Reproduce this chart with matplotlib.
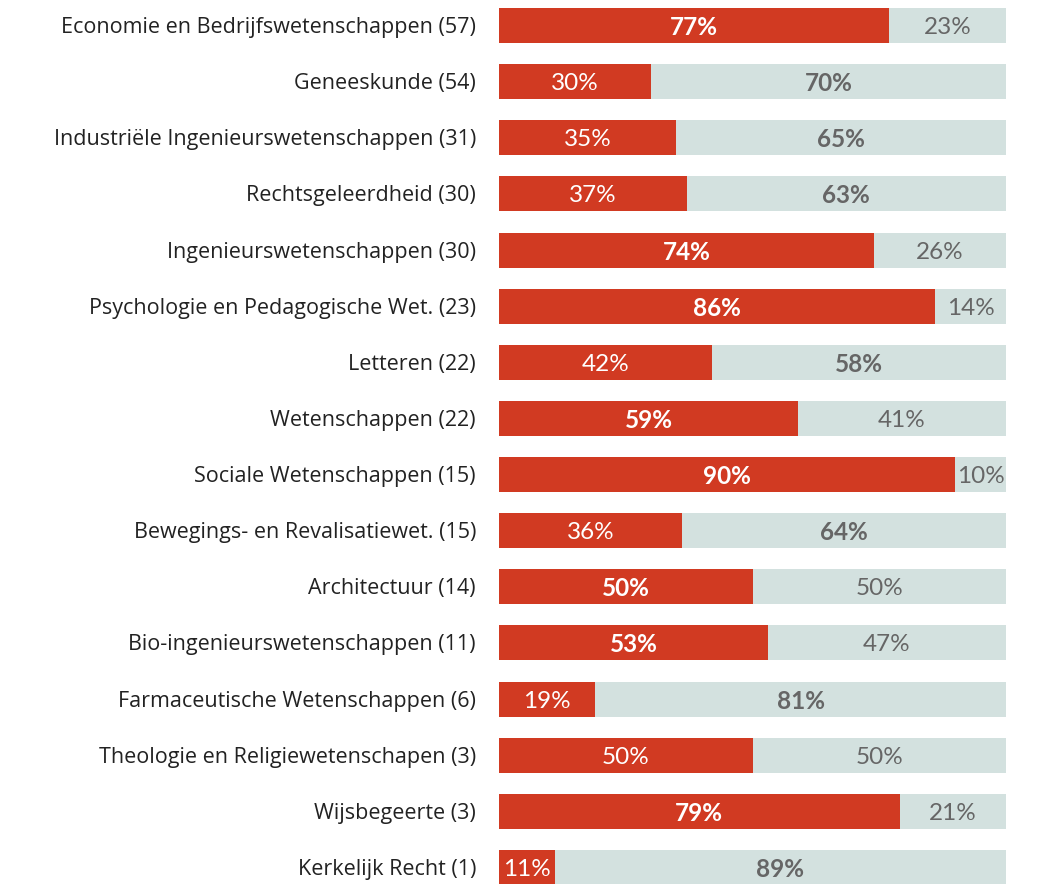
import matplotlib
matplotlib.use("Agg")
import matplotlib.pyplot as plt

categories = [
    "Economie en Bedrijfswetenschappen (57)",
    "Geneeskunde (54)",
    "Industriële Ingenieurswetenschappen (31)",
    "Rechtsgeleerdheid (30)",
    "Ingenieurswetenschappen (30)",
    "Psychologie en Pedagogische Wet. (23)",
    "Letteren (22)",
    "Wetenschappen (22)",
    "Sociale Wetenschappen (15)",
    "Bewegings- en Revalisatiewet. (15)",
    "Architectuur (14)",
    "Bio-ingenieurswetenschappen (11)",
    "Farmaceutische Wetenschappen (6)",
    "Theologie en Religiewetenschapen (3)",
    "Wijsbegeerte (3)",
    "Kerkelijk Recht (1)",
]
red_values = [77, 30, 35, 37, 74, 86, 42, 59, 90, 36, 50, 53, 19, 50, 79, 11]
grey_values = [23, 70, 65, 63, 26, 14, 58, 41, 10, 64, 50, 47, 81, 50, 21, 89]
red_bold = [True, False, False, False, True, True, False, True, True, False, True, True, False, False, True, False]
grey_bold = [False, True, True, True, False, False, True, False, False, True, False, False, True, False, False, True]

RED = "#d13a22"
GREY = "#d3e1df"
GREY_TEXT = "#666666"
LABEL_TEXT = "#222222"

W, H = 1038, 884
fig = plt.figure(figsize=(W / 100, H / 100), dpi=100)
fig.patch.set_facecolor("white")

step = 56.13
first_center = 25.5
top = -first_center / step
bottom = (H - first_center) / step

ax = fig.add_axes([499 / W, 0, 507 / W, 1])
ax.set_xlim(0, 100)
ax.set_ylim(bottom, top)
ax.axis("off")

n = len(categories)
ys = list(range(n))
bh = 35 / step
ax.barh(ys, red_values, height=bh, color=RED, edgecolor="none")
ax.barh(ys, grey_values, left=red_values, height=bh, color=GREY, edgecolor="none")

pct_font = "Lato"
for i in range(n):
    r, g = red_values[i], grey_values[i]
    ax.annotate(f"{r}%", xy=(r / 2, i), xytext=(0, -2), textcoords="offset pixels",
                ha="center", va="center", color="white",
                fontsize=17.5, family=pct_font,
                fontweight="bold" if red_bold[i] else "normal")
    ax.annotate(f"{g}%", xy=(r + g / 2, i), xytext=(0, -2), textcoords="offset pixels",
                ha="center", va="center", color=GREY_TEXT,
                fontsize=17.5, family=pct_font,
                fontweight="bold" if grey_bold[i] else "normal")
    ax.annotate(categories[i], xy=(0, i), xycoords="data",
                xytext=(-23, -2), textcoords="offset pixels",
                ha="right", va="center", color=LABEL_TEXT,
                fontsize=15.5, family="Open Sans", annotation_clip=False)

fig.savefig("out.png", dpi=100, facecolor="white")
